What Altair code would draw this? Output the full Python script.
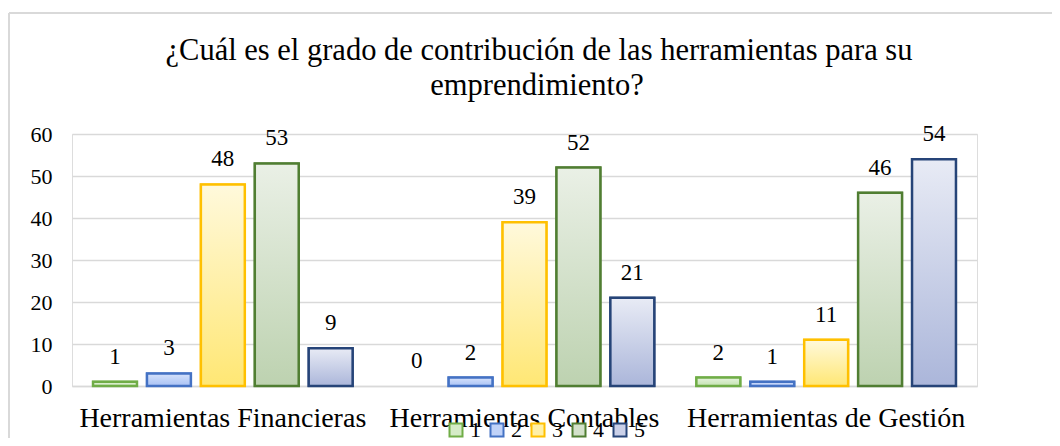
import altair as alt
import pandas as pd

categories = ["Herramientas Financieras", "Herramientas Contables", "Herramientas de Gestión"]
series = ["1", "2", "3", "4", "5"]
s1 = [1, 0, 2]
s2 = [3, 2, 1]
s3 = [48, 39, 11]
s4 = [53, 52, 46]
s5 = [9, 21, 54]
values = [s1, s2, s3, s4, s5]
title_lines = ["¿Cuál es el grado de contribución de las herramientas para su", "emprendimiento?"]

strokes = ["#70ad47", "#4472c4", "#ffc000", "#507e32", "#264478"]
tops = ["#e6f3de", "#d6e2fb", "#fff9dc", "#eaf0e6", "#e8ebf5"]
bottoms = ["#c3e3b0", "#a9c2f5", "#ffe774", "#bdd2b0", "#abb6da"]
mids = ["#d5ebc7", "#c0d2f8", "#fff0a8", "#d4e1cb", "#cad0e8"]

rows = []
for s, vals in zip(series, values):
    for c, v in zip(categories, vals):
        rows.append({"category": c, "series": s, "value": v})
df = pd.DataFrame(rows)

FONT = "Liberation Serif"
W, H = 905, 252

xenc = alt.X("category:N", sort=categories, title=None,
             scale=alt.Scale(paddingInner=0, paddingOuter=0),
             axis=alt.Axis(labelAngle=0, labelFontSize=28, labelFont=FONT, labelColor="#000000",
                           labelPadding=18, labelLimit=500, ticks=False, domain=True,
                           domainColor="#d9d9d9", domainWidth=1.5))
xoff = alt.XOffset("series:N", sort=series,
                   scale=alt.Scale(domain=series, paddingInner=0.185, paddingOuter=0.39))
yenc = alt.Y("value:Q", title=None,
             scale=alt.Scale(domain=[0, 60], nice=False),
             axis=alt.Axis(values=[0, 10, 20, 30, 40, 50, 60], labelFontSize=22, labelFont=FONT,
                           labelColor="#000000", labelPadding=20, ticks=False, domain=False,
                           gridColor="#d9d9d9", gridWidth=1.5))

base = alt.Chart(df)

legend_layer = base.transform_filter("datum.value > 0").mark_bar(strokeWidth=2).encode(
    x=xenc, xOffset=xoff, y=yenc,
    fill=alt.Fill("series:N", sort=series,
                  scale=alt.Scale(domain=series, range=mids),
                  legend=alt.Legend(title=None, orient="none", direction="horizontal",
                                    legendX=373, legendY=285, columns=5, padding=0,
                                    symbolType="square", symbolSize=169, symbolStrokeWidth=2,
                                    labelFontSize=22, labelFont=FONT, labelColor="#000000",
                                    labelOffset=3, columnPadding=5, symbolOpacity=1)),
    stroke=alt.Stroke("series:N", sort=series,
                      scale=alt.Scale(domain=series, range=strokes)),
)

layers = [legend_layer]
for s, st, t, b in zip(series, strokes, tops, bottoms):
    grad = alt.Gradient(gradient="linear",
                        stops=[alt.GradientStop(color=t, offset=0), alt.GradientStop(color=b, offset=1)],
                        x1=0, x2=0, y1=0, y2=1)
    layers.append(
        base.transform_filter(f"datum.series == '{s}' && datum.value > 0")
        .mark_bar(fill=grad, stroke=st, strokeWidth=2.5)
        .encode(x=xenc, xOffset=xoff, y=yenc)
    )

labels = base.mark_text(font=FONT, fontSize=23, color="#000000", baseline="middle", dy=-25).encode(
    x=xenc, xOffset=xoff, y=yenc, text="value:Q"
)
layers.append(labels)

one = pd.DataFrame({"a": [0]})
frame_top = alt.Chart(one).mark_rule(color="#d9d9d9", strokeWidth=2).encode(
    x=alt.value(-63), x2=alt.value(1000), y=alt.value(-121)
)
frame_left = alt.Chart(one).mark_rule(color="#d9d9d9", strokeWidth=2).encode(
    x=alt.value(-63), y=alt.value(-121), y2=alt.value(320)
)
title1 = alt.Chart(one).mark_text(font=FONT, fontSize=30.5, color="#000000", baseline="alphabetic",
                                  align="center").encode(
    x=alt.value(467), y=alt.value(-74), text=alt.value(title_lines[0])
)
title2 = alt.Chart(one).mark_text(font=FONT, fontSize=30.5, color="#000000", baseline="alphabetic",
                                  align="center").encode(
    x=alt.value(465), y=alt.value(-39), text=alt.value(title_lines[1])
)
layers += [frame_top, frame_left, title1, title2]

chart = alt.layer(*layers).properties(
    width=W, height=H,
    autosize=alt.AutoSizeParams(type="none"),
    padding={"left": 64, "top": 126, "right": 75, "bottom": 52},
).configure_view(stroke=None).configure(
    background="#ffffff", font=FONT
).configure_axis(labelFont=FONT).configure_text(font=FONT).configure_legend(labelFont=FONT)

chart.save("out.html", embed_options={"renderer": "svg", "actions": False})
